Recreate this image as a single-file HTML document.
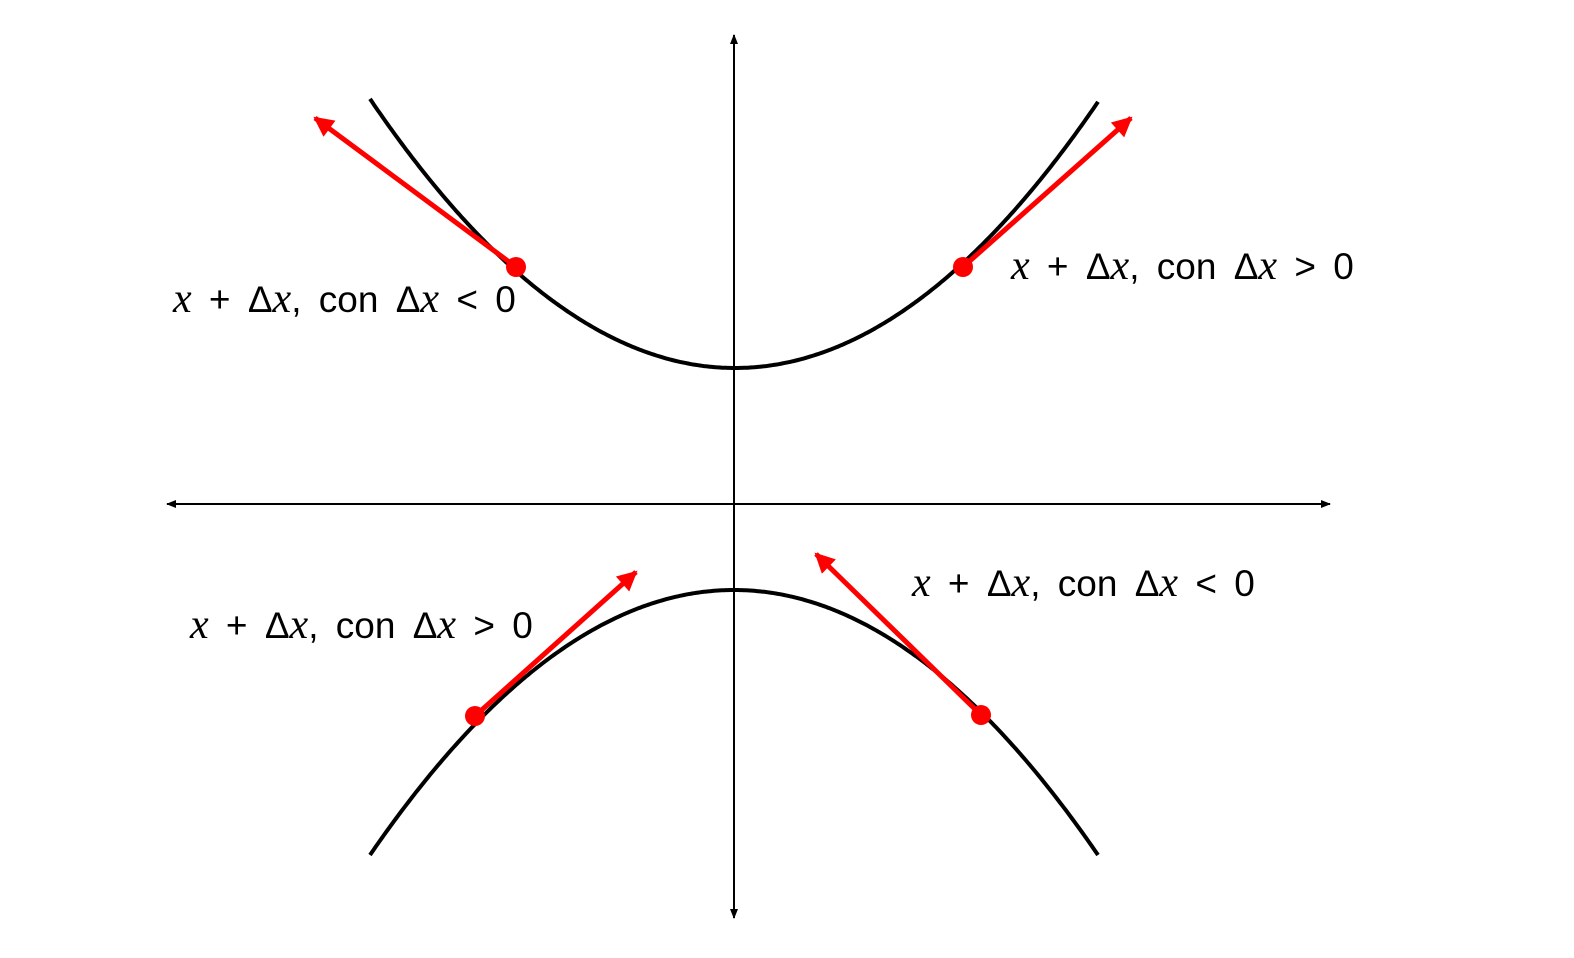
<!DOCTYPE html>
<html><head><meta charset="utf-8"><style>
html,body{margin:0;padding:0;background:#fff;}
svg{display:block;}
text{font-family:"Liberation Sans",sans-serif;font-size:37px;fill:#000;word-spacing:7px;}
.m{font-family:"Liberation Serif",serif;font-style:italic;font-size:42px;}
</style></head><body>
<svg id="chart" width="1574" height="958" viewBox="0 0 1574 958">
<defs>
<marker id="ah" viewBox="0 0 10 10" refX="9" refY="5" markerWidth="12" markerHeight="10" markerUnits="userSpaceOnUse" orient="auto-start-reverse"><path d="M0,1 L10,5 L0,9 Z" fill="#000"/></marker>
<marker id="rh" viewBox="0 0 10 10" refX="9" refY="5" markerWidth="4.4" markerHeight="4" orient="auto"><path d="M0,0 L10,5 L0,10 Z" fill="#f00"/></marker>
</defs>
<line x1="167" y1="504" x2="1330" y2="504" stroke="#000" stroke-width="2" marker-start="url(#ah)" marker-end="url(#ah)"/>
<line x1="734" y1="918" x2="734" y2="35" stroke="#000" stroke-width="2" marker-start="url(#ah)" marker-end="url(#ah)"/>
<g id="curves"></g>
<g id="arrows"></g>
<text x="173" y="312"><tspan class="m">x</tspan> + Δ<tspan class="m">x</tspan>, con Δ<tspan class="m">x</tspan> &lt; 0</text>
<text x="1011" y="279"><tspan class="m">x</tspan> + Δ<tspan class="m">x</tspan>, con Δ<tspan class="m">x</tspan> &gt; 0</text>
<text x="190" y="638"><tspan class="m">x</tspan> + Δ<tspan class="m">x</tspan>, con Δ<tspan class="m">x</tspan> &gt; 0</text>
<text x="912" y="596"><tspan class="m">x</tspan> + Δ<tspan class="m">x</tspan>, con Δ<tspan class="m">x</tspan> &lt; 0</text>
</svg>
<script>
// curve data: vertex, direction, curvature
const curveNames = ['upper-branch','lower-branch'];
const curveVertexX = [735, 734];
const curveVertexY = [368, 590];
const curveDir = [-1, 1];
const curveK = [0.00202, 0.00200];
const curveXMin = [370, 370];
const curveXMax = [1098, 1098];
// tangent points and arrow tips
const tanNames = ['upper-left','upper-right','lower-left','lower-right'];
const tanX = [516, 963, 475, 981];
const tanY = [267, 267, 716, 715];
const tipX = [315, 1131, 636, 816];
const tipY = [118, 118, 572, 554];

const NS='http://www.w3.org/2000/svg';
const cg=document.getElementById('curves');
for(let i=0;i<curveNames.length;i++){
  let d='';
  for(let x=curveXMin[i];x<=curveXMax[i];x+=2){
    const dx=x-curveVertexX[i];
    const y=curveVertexY[i]+curveDir[i]*curveK[i]*dx*dx;
    d+=(d?'L':'M')+x+','+y.toFixed(1);
  }
  const p=document.createElementNS(NS,'path');
  p.setAttribute('d',d);p.setAttribute('fill','none');p.setAttribute('stroke','#000');p.setAttribute('stroke-width','4');
  
  
  cg.appendChild(p);
}
const ag=document.getElementById('arrows');
for(let i=0;i<tanNames.length;i++){
  const l=document.createElementNS(NS,'line');
  l.setAttribute('x1',tanX[i]);l.setAttribute('y1',tanY[i]);l.setAttribute('x2',tipX[i]);l.setAttribute('y2',tipY[i]);
  l.setAttribute('stroke','#f00');l.setAttribute('stroke-width','5');l.setAttribute('marker-end','url(#rh)');
  
  
  ag.appendChild(l);
  const c=document.createElementNS(NS,'circle');
  c.setAttribute('cx',tanX[i]);c.setAttribute('cy',tanY[i]);c.setAttribute('r','10');c.setAttribute('fill','#f00');
  
  
  ag.appendChild(c);
}
</script>
</body></html>
